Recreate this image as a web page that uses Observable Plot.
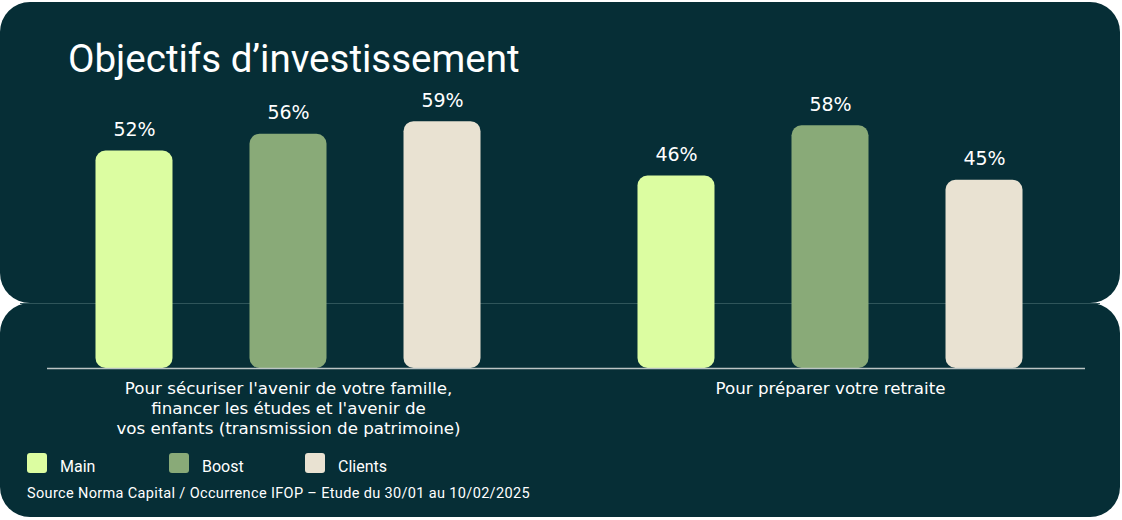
<!DOCTYPE html>
<html>
<head>
<meta charset="utf-8">
<script src="https://cdn.jsdelivr.net/npm/d3@7"></script>
<script src="https://cdn.jsdelivr.net/npm/@observablehq/plot@0.6"></script>
<style>
  html, body { margin: 0; padding: 0; background: #ffffff; }
  #wrap { position: relative; width: 1122px; height: 520px; overflow: hidden; background: #ffffff; }
  .panel { position: absolute; left: 0; width: 1120px; background: #062e36; border-radius: 30px; }
  #seam { position: absolute; left: 20px; width: 1080px; top: 302.5px; height: 1px; background: #2f555a; }
  #title { position: absolute; left: 68px; top: 40px; font-family: Roboto, sans-serif; font-size: 38.5px; line-height: 38.5px; color: #ffffff; font-weight: 400; white-space: nowrap; }
  #chart { position: absolute; left: 0; top: 88px; }
  #legend { position: absolute; left: 27px; top: 453px; display: flex; font-family: Roboto, sans-serif; font-size: 16px; color: #ffffff; }
  .item { display: flex; align-items: flex-start; }
  .sw { width: 20px; height: 20px; border-radius: 3px; }
  .lab { margin-left: 13px; margin-top: 4px; line-height: 20px; }
  #caption { position: absolute; left: 27px; top: 487px; font-family: Roboto, sans-serif; font-size: 14.5px; letter-spacing: 0.35px; line-height: 14px; color: #ffffff; white-space: nowrap; }
</style>
</head>
<body>
<div id="wrap">
  <div class="panel" style="top:2px;height:301px;"></div>
  <div class="panel" style="top:303px;height:214px;"></div>
  <div id="seam"></div>
  <div id="title">Objectifs d’investissement</div>
  <div id="chart"></div>
  <div id="legend"></div>
  <div id="caption">Source Norma Capital / Occurrence IFOP – Etude du 30/01 au 10/02/2025</div>
</div>
<script>
// ---- data ----
const groups = [
  "Pour sécuriser l'avenir de votre famille,\nfinancer les études et l'avenir de\nvos enfants (transmission de patrimoine)",
  "Pour préparer votre retraite"
];
const series = ["Main", "Boost", "Clients"];
const colors = ["#dcfda1", "#89aa78", "#e9e2d2"];
const mainValues = [52, 46];
const boostValues = [56, 58];
const clientsValues = [59, 45];
const yDomain = [0, 60];

// ---- table built from the arrays ----
const valuesBySeries = {Main: mainValues, Boost: boostValues, Clients: clientsValues};
const rows = [];
groups.forEach((g, gi) => {
  series.forEach(s => rows.push({group: g, series: s, value: valuesBySeries[s][gi]}));
});

const ruleStyle = {stroke: "#bcc5c5", strokeWidth: 1.6};
const labelFont = "'DejaVu Sans', sans-serif";

const chart = Plot.plot({
  width: 1122,
  height: 352,
  marginTop: 29,
  marginBottom: 72,
  marginLeft: 47,
  marginRight: 37,
  style: {background: "transparent", color: "#ffffff", overflow: "visible"},
  fx: {domain: groups, paddingInner: 0.20664, paddingOuter: 0.060886, align: 0.394, round: false, axis: null},
  x: {domain: series, paddingInner: 0.5, paddingOuter: 0.146, round: false, axis: null},
  y: {domain: yDomain, axis: null},
  color: {domain: series, range: colors},
  marks: [
    Plot.barY(rows, {fx: "group", x: "series", y: "value", fill: "series", rx: 10}),
    Plot.ruleY([groups[0]], {fx: d => d, y: () => 0, insetLeft: -26, insetRight: -56, ...ruleStyle}),
    Plot.ruleY([groups[1]], {fx: d => d, y: () => 0, insetLeft: -56, insetRight: -40, ...ruleStyle}),
    Plot.text(rows, {
      fx: "group", x: "series", y: "value",
      text: d => d.value + "%",
      dy: -15, lineAnchor: "bottom",
      fill: "#ffffff", fontSize: 19, fontFamily: labelFont
    }),
    Plot.text(groups, {
      fx: d => d, text: d => d,
      frameAnchor: "bottom", lineAnchor: "top", dy: 11,
      fill: "#ffffff", fontSize: 16.7, lineHeight: 20 / 16.7,
      fontFamily: labelFont
    })
  ]
});
document.getElementById("chart").appendChild(chart);

// ---- legend ----
const legend = document.getElementById("legend");
const itemWidths = [142, 136, null];
series.forEach((s, i) => {
  const item = document.createElement("div");
  item.className = "item";
  if (itemWidths[i]) item.style.width = itemWidths[i] + "px";
  const sw = document.createElement("div");
  sw.className = "sw";
  sw.style.background = colors[i];
  const lab = document.createElement("div");
  lab.className = "lab";
  lab.textContent = s;
  item.appendChild(sw);
  item.appendChild(lab);
  legend.appendChild(item);
});
</script>
</body>
</html>
